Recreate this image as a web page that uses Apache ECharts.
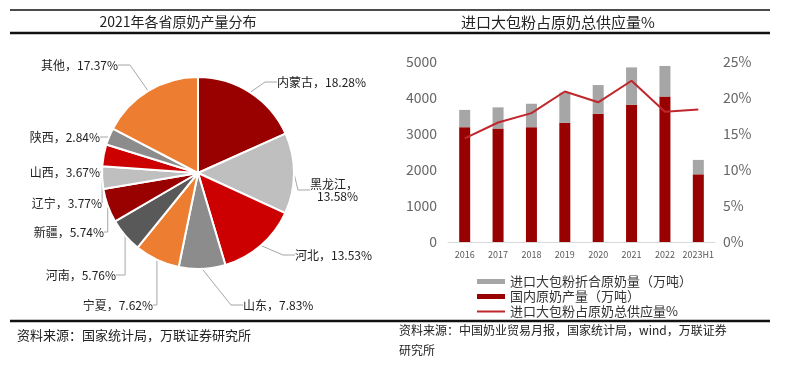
<!DOCTYPE html>
<html>
<head>
<meta charset="utf-8">
<script src="https://cdn.jsdelivr.net/npm/echarts@6/dist/echarts.min.js"></script>
<style>
  html, body { margin: 0; padding: 0; background: #fff; }
  #main { width: 785px; height: 376px; }
</style>
</head>
<body>
<div id="main"></div>
<script>
// 2021年各省原奶产量分布
const provinces = ['内蒙古', '黑龙江', '河北', '山东', '宁夏', '河南', '新疆', '辽宁', '山西', '陕西', '其他'];
const shares = [18.28, 13.58, 13.53, 7.83, 7.62, 5.76, 5.74, 3.77, 3.67, 2.84, 17.37];

// 进口大包粉占原奶总供应量%
const years = ['2016', '2017', '2018', '2019', '2020', '2021', '2022', '2023H1'];
const domesticMilk = [3190, 3150, 3190, 3310, 3560, 3810, 4040, 1880];
const importedPowder = [480, 590, 650, 840, 800, 1040, 850, 400];
const importShare = [14.4, 16.6, 17.9, 20.9, 19.4, 22.4, 18.1, 18.4];

const sliceColors = ['#990000', '#bfbfbf', '#cc0000', '#8c8c8c', '#ed7d31', '#595959',
  '#990000', '#bfbfbf', '#cc0000', '#8c8c8c', '#ed7d31'];

// label anchor for each slice: [x, y, align]
const labelPos = [
  [277, 82, 'left'], [358, 190, 'right'], [295, 255, 'left'], [243, 305, 'left'],
  [153, 305, 'right'], [116, 275, 'right'], [104, 232, 'right'], [102, 203, 'right'],
  [100, 172, 'right'], [100, 137, 'right'], [118, 65, 'right']
];

const font = '"Noto Sans CJK SC", "Noto Sans", sans-serif';
const chart = echarts.init(document.getElementById('main'));

const hLine = (y, w) => ({
  type: 'line', silent: true,
  shape: { x1: 10, y1: y, x2: 770, y2: y },
  style: { stroke: '#111', lineWidth: w }
});
const txt = (x, y, text, size, align) => ({
  type: 'text', silent: true, x: x, y: y,
  style: { text: text, fontSize: size, fontFamily: font, fill: '#222', align: align || 'left', verticalAlign: 'middle' }
});

const option = {
  animation: false,
  textStyle: { fontFamily: font },
  graphic: [
    hLine(10, 1.5), hLine(33, 2.5), hLine(321, 2.5),
    txt(178, 22, '2021年各省原奶产量分布', 14, 'center'),
    txt(558, 22, '进口大包粉占原奶总供应量%', 15, 'center'),
    txt(17, 335, '资料来源：国家统计局，万联证券研究所', 13),
    txt(399, 330, '资料来源：中国奶业贸易月报，国家统计局，wind，万联证券', 12),
    txt(399, 350, '研究所', 12)
  ],
  legend: {
    orient: 'vertical',
    left: 472,
    top: 270,
    itemGap: 2,
    itemWidth: 28,
    itemHeight: 5,
    textStyle: { fontSize: 13, color: '#333', fontFamily: font },
    data: [
      { name: '进口大包粉折合原奶量（万吨）', icon: 'rect' },
      { name: '国内原奶产量（万吨）', icon: 'rect' },
      { name: '进口大包粉占原奶总供应量%', icon: 'path://M0,0L28,0L28,2L0,2Z' }
    ]
  },
  grid: { left: 448, right: 70, top: 62, bottom: 134 },
  xAxis: {
    type: 'category',
    data: years,
    axisTick: { show: false },
    axisLine: { lineStyle: { color: '#d9d9d9' } },
    axisLabel: { fontSize: 9, color: '#595959', margin: 8, interval: 0 }
  },
  yAxis: [
    {
      type: 'value', min: 0, max: 5000, interval: 1000,
      splitLine: { show: false },
      axisLabel: { fontSize: 14, color: '#666', margin: 11, formatter: (v) => String(v) }
    },
    {
      type: 'value', min: 0, max: 25, interval: 5,
      splitLine: { show: false },
      axisLabel: { fontSize: 14, color: '#666', margin: 8, formatter: '{value}%' }
    }
  ],
  series: [
    {
      type: 'pie',
      center: [198, 173],
      radius: 96,
      startAngle: 90,
      clockwise: true,
      data: provinces.map((p, i) => ({ name: p, value: shares[i], itemStyle: { color: sliceColors[i] } })),
      itemStyle: { borderColor: '#fff', borderWidth: 2 },
      label: {
        fontSize: 12,
        color: '#222',
        fontFamily: font,
        overflow: 'none',
        formatter: (p) => p.name + '，' + (p.name === '黑龙江' ? '\n' : '') + p.value.toFixed(2) + '%'
      },
      labelLine: { show: true, length: 10, length2: 12, lineStyle: { color: '#a6a6a6', width: 1 } },
      labelLayout: (params) => {
        const p = labelPos[params.dataIndex];
        return { x: p[0], y: p[1], align: p[2], verticalAlign: 'middle' };
      }
    },
    {
      name: '国内原奶产量（万吨）',
      type: 'bar',
      stack: 'milk',
      barWidth: 11,
      itemStyle: { color: '#990000' },
      data: domesticMilk
    },
    {
      name: '进口大包粉折合原奶量（万吨）',
      type: 'bar',
      stack: 'milk',
      barWidth: 11,
      itemStyle: { color: '#a6a6a6' },
      data: importedPowder
    },
    {
      name: '进口大包粉占原奶总供应量%',
      type: 'line',
      yAxisIndex: 1,
      symbol: 'none',
      lineStyle: { color: '#c0272d', width: 2 },
      itemStyle: { color: '#c0272d' },
      data: importShare
    }
  ]
};

chart.setOption(option);
</script>
</body>
</html>
